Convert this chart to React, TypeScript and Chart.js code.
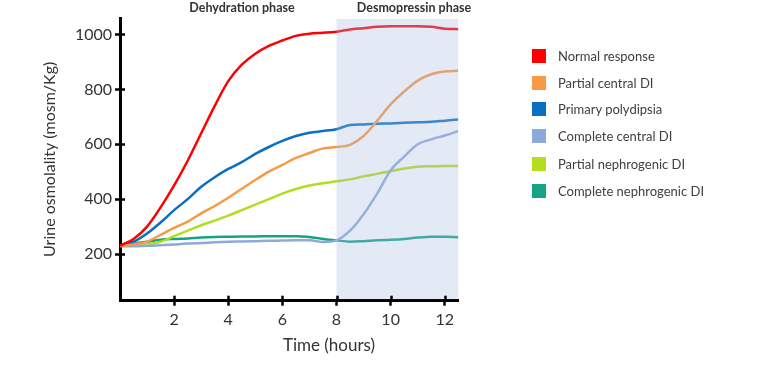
import React, { useEffect, useRef } from 'react';
import { Chart, registerables } from 'chart.js';

Chart.register(...registerables);

// ---- data ----
const hours = [0, 0.5, 1, 1.5, 2, 2.5, 3, 3.5, 4, 4.5, 5, 5.5, 6, 6.5, 7, 7.5, 8, 8.5, 9, 9.5, 10, 10.5, 11, 11.5, 12, 12.5];

const normalResponse = [230, 255, 300, 370, 450, 540, 640, 740, 830, 890, 930, 958, 978, 995, 1003, 1006, 1010, 1018, 1023, 1028, 1030, 1030, 1030, 1028, 1021, 1019];
const partialCentralDI = [230, 235, 245, 270, 295, 318, 348, 375, 405, 438, 470, 500, 525, 550, 568, 585, 590, 598, 630, 685, 745, 792, 832, 855, 865, 868];
const primaryPolydipsia = [230, 245, 275, 315, 360, 400, 445, 480, 510, 535, 565, 590, 612, 630, 642, 648, 655, 670, 672, 675, 676, 678, 680, 682, 686, 690];
const completeCentralDI = [228, 228, 230, 232, 235, 238, 240, 243, 245, 246, 247, 248, 249, 250, 250, 244, 250, 285, 345, 420, 505, 555, 600, 618, 632, 648];
const partialNephrogenicDI = [230, 230, 235, 245, 265, 285, 305, 322, 340, 360, 380, 400, 420, 437, 450, 458, 465, 472, 483, 492, 502, 512, 518, 520, 521, 521];
const completeNephrogenicDI = [230, 238, 245, 252, 255, 257, 260, 262, 263, 264, 264, 265, 265, 265, 262, 255, 250, 245, 247, 250, 252, 255, 260, 263, 263, 261];

const seriesNames = ['Normal response', 'Partial central DI', 'Primary polydipsia', 'Complete central DI', 'Partial nephrogenic DI', 'Complete nephrogenic DI'];
const seriesValues = [normalResponse, partialCentralDI, primaryPolydipsia, completeCentralDI, partialNephrogenicDI, completeNephrogenicDI];
const seriesColors = ['#ff0000', '#f89a45', '#0a6fc2', '#8eaadb', '#b3de1f', '#15a383'];

const yTicks = [200, 400, 600, 800, 1000];
const xTicks = [2, 4, 6, 8, 10, 12];
const desmopressinStart = 8;
const phaseLabels = ['Dehydration phase', 'Desmopressin phase'];
const xTitle = 'Time (hours)';
const yTitle = 'Urine osmolality (mosm/Kg)';

const FONT = 'Lato, "Open Sans", sans-serif';

const overlayPlugin = {
  id: 'overlay',
  afterDatasetsDraw(chart: any) {
    const { ctx, chartArea, scales } = chart;
    const x0 = scales.x.getPixelForValue(desmopressinStart);
    ctx.save();
    ctx.fillStyle = 'rgba(168,188,225,0.32)';
    ctx.fillRect(x0, chartArea.top + 1, chartArea.right - x0, chartArea.bottom - chartArea.top - 2.5);
    ctx.restore();
  },
  afterDraw(chart: any) {
    const { ctx, chartArea, scales } = chart;
    ctx.save();
    ctx.strokeStyle = '#000';
    ctx.lineWidth = 2.5;
    // inner halves of cross ticks
    yTicks.forEach((v) => {
      const py = Math.round(scales.y.getPixelForValue(v)) + 0.5;
      ctx.beginPath();
      ctx.moveTo(chartArea.left, py);
      ctx.lineTo(chartArea.left + 5, py);
      ctx.stroke();
    });
    xTicks.forEach((v) => {
      const px = Math.round(scales.x.getPixelForValue(v)) + 0.5;
      ctx.beginPath();
      ctx.moveTo(px, chartArea.bottom);
      ctx.lineTo(px, chartArea.bottom - 5);
      ctx.stroke();
    });
    // phase labels
    ctx.fillStyle = '#333';
    ctx.textAlign = 'center';
    ctx.textBaseline = 'middle';
    ctx.font = `bold 12.5px ${FONT}`;
    ctx.fillText(phaseLabels[0], 242, 8);
    ctx.fillText(phaseLabels[1], 414, 8);
    // x title
    ctx.font = `17px ${FONT}`;
    ctx.fillText(xTitle, 329, 346);
    ctx.restore();
  },
};

export default function App() {
  const canvasRef = useRef<HTMLCanvasElement | null>(null);

  useEffect(() => {
    if (!canvasRef.current) return;
    Chart.defaults.font.family = FONT;
    const chart = new Chart(canvasRef.current, {
      type: 'line',
      data: {
        datasets: seriesNames.map((name, i) => ({
          label: name,
          data: hours.map((h, j) => ({ x: h, y: seriesValues[i][j] })),
          borderColor: seriesColors[i],
          backgroundColor: seriesColors[i],
          borderWidth: 2.5,
          pointRadius: 0,
          cubicInterpolationMode: 'monotone' as const,
          fill: false,
        })),
      },
      options: {
        responsive: false,
        animation: false,
        layout: { padding: { left: 0, top: 18, right: 309.7, bottom: 0 } },
        plugins: {
          legend: { display: false },
          tooltip: { enabled: false },
        },
        scales: {
          x: {
            type: 'linear',
            min: 0,
            max: 12.5,
            afterBuildTicks: (s: any) => {
              s.ticks = xTicks.map((v) => ({ value: v }));
            },
            afterFit: (s: any) => {
              s.height = 66.3;
            },
            grid: { drawOnChartArea: false, drawTicks: true, tickLength: 5, tickWidth: 2.5, tickColor: '#000' },
            border: { display: true, color: '#000', width: 3 },
            ticks: {
              padding: 5,
              maxRotation: 0,
              color: '#333',
              font: { size: 16 },
              callback: (v: any) => String(v),
            },
          },
          y: {
            type: 'linear',
            min: 30,
            max: 1060,
            afterBuildTicks: (s: any) => {
              s.ticks = yTicks.map((v) => ({ value: v }));
            },
            afterFit: (s: any) => {
              s.width = 120;
            },
            grid: { drawOnChartArea: false, drawTicks: true, tickLength: 5, tickWidth: 2.5, tickColor: '#000' },
            border: { display: true, color: '#000', width: 3 },
            ticks: {
              padding: 3,
              color: '#333',
              font: { size: 16 },
              callback: (v: any) => String(v),
            },
            title: {
              display: true,
              text: yTitle,
              color: '#333',
              font: { size: 16 },
              padding: { top: 40, bottom: 0 },
            },
          },
        },
      },
      plugins: [overlayPlugin],
    });
    return () => chart.destroy();
  }, []);

  const legendTops = [56, 82.5, 109, 136, 163.5, 191];

  return (
    <div style={{ position: 'absolute', left: 0, top: 0, width: 768, height: 367, background: '#fff' }}>
      <canvas ref={canvasRef} width={768} height={367} style={{ display: 'block', width: 768, height: 367 }} />
      {seriesNames.map((name, i) => (
        <div key={name} style={{ position: 'absolute', left: 532, top: legendTops[i] - 7, height: 14, display: 'flex', alignItems: 'center' }}>
          <div style={{ width: 14, height: 14, background: seriesColors[i] }} />
          <div style={{ marginLeft: 12, fontFamily: FONT, fontSize: 13, color: '#404040', lineHeight: '14px', whiteSpace: 'nowrap' }}>{name}</div>
        </div>
      ))}
    </div>
  );
}
